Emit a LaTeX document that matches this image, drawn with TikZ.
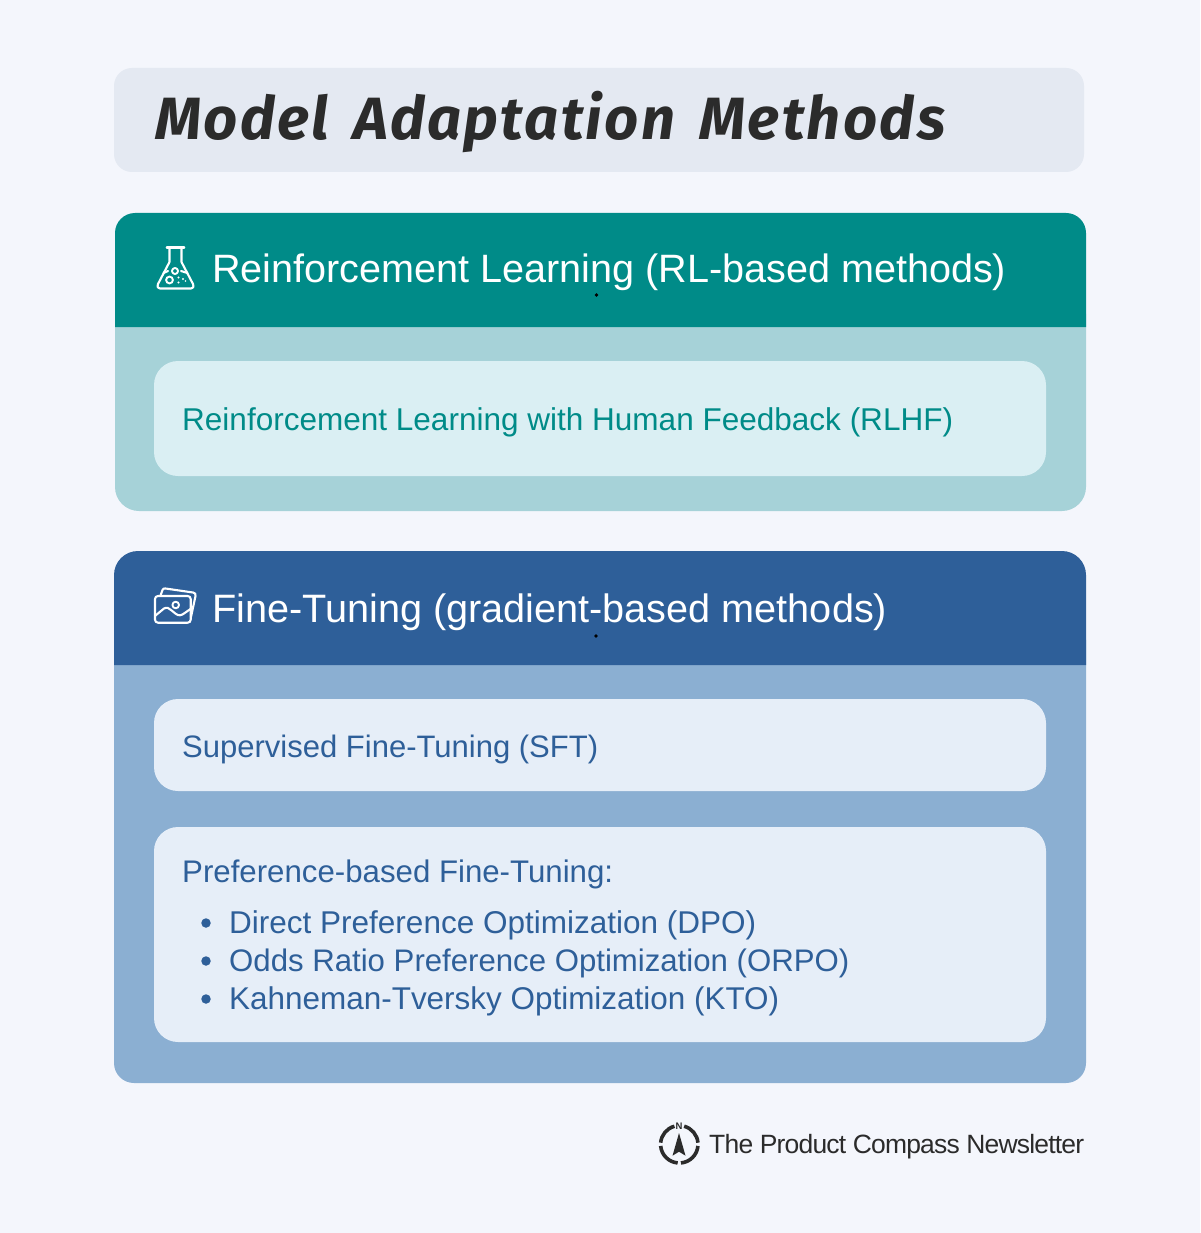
\documentclass[tikz,border=0pt]{standalone}
\usepackage{fontspec}
\usepackage{graphicx}
\setmainfont{Liberation Sans}
\newfontfamily\titlefont[LetterSpace=4,WordSpace=1.5]{Fira Sans}
\newfontfamily\footfont[LetterSpace=-3]{Liberation Sans}
\definecolor{pagebg}{HTML}{F4F6FC}
\definecolor{titlebg}{HTML}{E4E9F2}
\definecolor{inkdark}{HTML}{2B2B2B}
\definecolor{tealdark}{HTML}{008B88}
\definecolor{teallight}{HTML}{A6D2D8}
\definecolor{tealpale}{HTML}{DAEFF3}
\definecolor{bluedark}{HTML}{2E5F99}
\definecolor{bluelight}{HTML}{8BAFD2}
\definecolor{bluepale}{HTML}{E6EEF8}
\tikzset{
  headtext/.style={anchor=base west,inner sep=0pt,text=white,font=\fontsize{40}{40}\selectfont},
  tealtext/.style={anchor=base west,inner sep=0pt,text=tealdark,font=\fontsize{32}{32}\selectfont},
  bluetext/.style={anchor=base west,inner sep=0pt,text=bluedark,font=\fontsize{32}{32}\selectfont},
  iconline/.style={draw=white,line width=2.1pt,line join=round,line cap=round,fill=none},
  bulletdot/.style={circle,fill=bluedark,inner sep=0pt,minimum size=9.5pt},
  speck/.style={circle,fill=black,inner sep=0pt,minimum size=3.6pt},
}
\newcommand{\fitw}[2]{\resizebox{#1pt}{!}{#2}}
\begin{document}
\begin{tikzpicture}[x=1pt,y=-1pt]
\useasboundingbox (0,0) rectangle (1200,1233);
\fill[pagebg] (0,0) rectangle (1200,1233);
% title
\fill[titlebg,rounded corners=18] (114,68) rectangle (1084,172);
\node[anchor=base west,inner sep=0pt,text=inkdark] (title) at (155,140)
  {\fitw{790}{\titlefont\fontsize{66}{66}\selectfont\bfseries\itshape Model Adaptation Methods}};
% RL panel
\fill[teallight,rounded corners=24] (115,290) rectangle (1086,511);
\fill[tealdark] (115,327) [rounded corners=20] -- (115,213) -- (1086,213) [sharp corners] -- (1086,327) -- cycle;
\fill[tealpale,rounded corners=24] (154,361) rectangle (1046,476);
\node[headtext] (rlhead) at (212,283) {\fitw{794}{Reinforcement Learning (RL-based methods)}};
\node[tealtext] (rlhf) at (182,430) {\fitw{771}{Reinforcement Learning with Human Feedback (RLHF)}};
\node[speck] (speckone) at (596.5,295) {};
% flask
\draw[iconline] (166.7,247.5) -- (184.3,247.5);
\draw[iconline] (169.5,247.5) -- (169.5,262) -- (158,284) .. controls (157,287) and (158,288.5) .. (160,288.5) -- (191,288.5) .. controls (193,288.5) and (194,287) .. (193,284) -- (181.5,262) -- (181.5,247.5);
\draw[iconline] (163.5,273) -- (168,271);
\draw[iconline] (181,271) -- (187.5,273);
\draw[iconline,line width=1.9pt] (175,271) circle (3);
\draw[iconline,line width=1.9pt] (169.5,280) circle (3.4);
\fill[white] (178.5,277.5) circle (1.1) (183,279) circle (1.1) (178.5,282.5) circle (1.1) (185.5,281) circle (.9);
% FT panel
\fill[bluelight,rounded corners=20] (114,620) rectangle (1086,1083);
\fill[bluedark] (114,665) [rounded corners=24] -- (114,551) -- (1086,551) [sharp corners] -- (1086,665) -- cycle;
\fill[bluepale,rounded corners=24] (154,699) rectangle (1046,791);
\fill[bluepale,rounded corners=24] (154,827) rectangle (1046,1042);
\node[headtext] (fthead) at (212,622) {\fitw{675}{Fine-Tuning (gradient-based methods)}};
\node[speck] (specktwo) at (596,636) {};
% photos icon
\draw[iconline,rounded corners=3] (155,596) rectangle (190.7,622.7);
\draw[iconline] (160.5,595.5) -- (162.5,590) .. controls (163,588.5) and (164,588.3) .. (165.5,588.5) -- (193,592.5) .. controls (195,592.8) and (196,594) .. (195.5,596) -- (191,617);
\draw[iconline,line width=1.9pt] (175.7,605) circle (3.3);
\draw[iconline] (155.5,615.5) -- (164,608.5) .. controls (167,607) and (169,608) .. (171,610) -- (176,614) .. controls (179,616) and (181,615.5) .. (184,613.5) -- (190.5,609);
% item text
\node[bluetext] (sft) at (182,757) {\fitw{416}{Supervised Fine-Tuning (SFT)}};
\node[bluetext] (pref) at (182,882) {\fitw{431}{Preference-based Fine-Tuning:}};
\node[bulletdot] (bulletone) at (206,923) {};
\node[bulletdot] (bullettwo) at (206,961) {};
\node[bulletdot] (bulletthree) at (206,999) {};
\node[bluetext] (dpo) at (229,933) {\fitw{527}{Direct Preference Optimization (DPO)}};
\node[bluetext] (orpo) at (229,971) {\fitw{620}{Odds Ratio Preference Optimization (ORPO)}};
\node[bluetext] (kto) at (229,1009) {\fitw{550}{Kahneman-Tversky Optimization (KTO)}};
% footer
\node[anchor=base west,inner sep=0pt,text=inkdark] (footer) at (709,1153)
  {\fitw{375}{\footfont\fontsize{28}{28}\selectfont The Product Compass Newsletter}};
% compass
\begin{scope}[shift={(679.3,1144.3)}]
\foreach \a/\b in {5/85,95/175,185/255,285/355}{
  \draw[inkdark,line width=3.6pt] (\a:18.7) arc[start angle=\a,end angle=\b,radius=18.7];
}
\end{scope}
\fill[inkdark] (679,1133) -- (685.5,1155.7) -- (679,1151.7) -- (672.5,1155.7) -- cycle;
\node[inner sep=0pt,text=inkdark,font=\fontsize{9.5}{9.5}\selectfont\bfseries] (north) at (679,1126.5) {N};
\end{tikzpicture}
\end{document}
